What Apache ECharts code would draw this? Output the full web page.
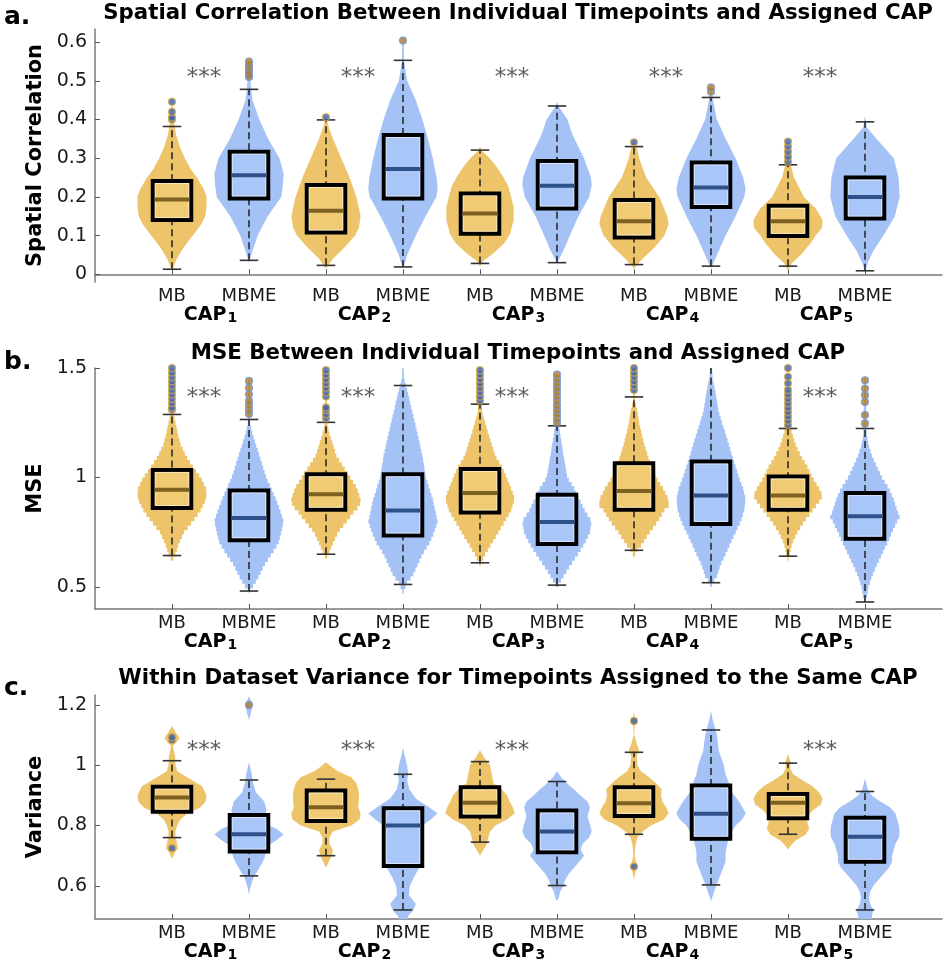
<!DOCTYPE html>
<html><head><meta charset="utf-8">
<script src="https://cdn.jsdelivr.net/npm/echarts@6/dist/echarts.min.js"></script>
<style>html,body{margin:0;padding:0;background:#fff}#c{width:945px;height:971px}</style>
</head><body><div id="c"></div><script>
// ---------------- DATA ----------------
const groups = ['MB', 'MBME'];
const capNumbers = ['1', '2', '3', '4', '5'];
const panelTitles = [
  'Spatial Correlation Between Individual Timepoints and Assigned CAP',
  'MSE Between Individual Timepoints and Assigned CAP',
  'Within Dataset Variance for Timepoints Assigned to the Same CAP'
];
const panelLetters = ['a.', 'b.', 'c.'];
const yNames = ['Spatial Correlation', 'MSE', 'Variance'];
const starText = '***';

// Panel a: spatial correlation
const corrTicks = [0, 0.1, 0.2, 0.3, 0.4, 0.5, 0.6];
const corrTickLabels = ['0', '0.1', '0.2', '0.3', '0.4', '0.5', '0.6'];
// [whiskerLow, q1, median, q3, whiskerHigh] in order MB1, MBME1, MB2, ...
const corrBoxes = [
  [0.013, 0.14, 0.193, 0.241, 0.382], [0.036, 0.196, 0.256, 0.317, 0.478],
  [0.023, 0.108, 0.164, 0.231, 0.399], [0.019, 0.196, 0.272, 0.36, 0.553],
  [0.028, 0.105, 0.157, 0.209, 0.321], [0.03, 0.17, 0.229, 0.293, 0.435],
  [0.025, 0.095, 0.137, 0.192, 0.33], [0.021, 0.174, 0.224, 0.289, 0.457],
  [0.021, 0.099, 0.137, 0.177, 0.283], [0.009, 0.144, 0.2, 0.25, 0.394]
];
const corrOutliers = [
  [0.40, 0.405, 0.42, 0.446], [0.51, 0.515, 0.524, 0.533, 0.541, 0.55],
  [0.406], [0.604],
  [], [],
  [0.341], [0.472, 0.483],
  [0.291, 0.304, 0.317, 0.33, 0.343], []
];
// violin density profiles: [value, relative half-width]
const corrViolins = [
  [[0.01,0],[0.02,0.05],[0.04,0.14],[0.07,0.34],[0.10,0.6],[0.13,0.85],[0.15,0.96],[0.18,1.0],[0.20,1.0],[0.22,0.92],[0.25,0.72],[0.27,0.55],[0.30,0.37],[0.33,0.22],[0.36,0.12],[0.39,0.06],[0.42,0.03],[0.46,0]],
  [[0.03,0],[0.06,0.1],[0.10,0.25],[0.15,0.54],[0.20,0.93],[0.23,0.98],[0.26,1.0],[0.30,0.88],[0.35,0.55],[0.40,0.3],[0.45,0.1],[0.50,0.04],[0.56,0]],
  [[0.015,0],[0.02,0.05],[0.04,0.2],[0.07,0.54],[0.10,0.84],[0.12,0.95],[0.15,1.0],[0.20,0.88],[0.25,0.68],[0.30,0.44],[0.35,0.2],[0.38,0.08],[0.41,0]],
  [[0.015,0],[0.02,0.03],[0.05,0.12],[0.10,0.37],[0.15,0.65],[0.20,0.96],[0.22,1.0],[0.25,0.97],[0.30,0.86],[0.35,0.72],[0.40,0.56],[0.45,0.37],[0.50,0.12],[0.55,0.03],[0.61,0.02],[0.615,0]],
  [[0.02,0],[0.035,0.1],[0.054,0.39],[0.08,0.7],[0.105,0.87],[0.14,0.97],[0.174,0.97],[0.2,0.9],[0.226,0.82],[0.25,0.68],[0.278,0.48],[0.30,0.28],[0.32,0.05],[0.33,0]],
  [[0.03,0],[0.06,0.18],[0.10,0.37],[0.15,0.62],[0.20,0.93],[0.23,1.0],[0.25,0.98],[0.30,0.78],[0.36,0.45],[0.40,0.3],[0.43,0.08],[0.445,0]],
  [[0.015,0],[0.02,0.05],[0.04,0.25],[0.07,0.6],[0.10,0.88],[0.13,1.0],[0.15,0.96],[0.20,0.73],[0.25,0.35],[0.30,0.15],[0.32,0.1],[0.35,0]],
  [[0.015,0],[0.02,0.03],[0.05,0.17],[0.10,0.42],[0.15,0.71],[0.20,0.96],[0.22,1.0],[0.25,0.93],[0.30,0.71],[0.35,0.42],[0.40,0.17],[0.45,0.06],[0.49,0]],
  [[0.01,0],[0.03,0.12],[0.05,0.37],[0.08,0.65],[0.10,0.8],[0.12,0.98],[0.14,1.0],[0.17,0.8],[0.20,0.46],[0.25,0.17],[0.30,0.03],[0.345,0]],
  [[0.005,0],[0.03,0.08],[0.06,0.24],[0.10,0.53],[0.15,0.86],[0.20,1.0],[0.25,0.97],[0.30,0.83],[0.35,0.33],[0.38,0.05],[0.41,0]]
];
const corrStars = [true, true, true, true, true];
const corrStarLevel = 0.52;

// Panel b: MSE
const mseTicks = [0.5, 1, 1.5];
const mseTickLabels = ['0.5', '1', '1.5'];
const mseBoxes = [
  [0.644, 0.861, 0.944, 1.035, 1.288], [0.482, 0.714, 0.815, 0.941, 1.265],
  [0.65, 0.853, 0.924, 1.015, 1.252], [0.512, 0.735, 0.85, 1.015, 1.42],
  [0.611, 0.841, 0.929, 1.039, 1.335], [0.509, 0.697, 0.797, 0.921, 1.236],
  [0.668, 0.853, 0.939, 1.065, 1.368], [0.52, 0.788, 0.918, 1.073, 1.55],
  [0.641, 0.853, 0.918, 1.005, 1.224], [0.432, 0.721, 0.823, 0.929, 1.224]
];
const mseOutliers = [
  [1.31, 1.32, 1.34, 1.36, 1.38, 1.4, 1.42, 1.44, 1.46, 1.48, 1.5],
  [1.29, 1.31, 1.33, 1.35, 1.38, 1.41, 1.441],
  [1.27, 1.29, 1.31, 1.32, 1.37, 1.39, 1.41, 1.43, 1.45, 1.47, 1.49],
  [],
  [1.35, 1.37, 1.39, 1.41, 1.43, 1.45, 1.47, 1.49],
  [1.25, 1.27, 1.29, 1.31, 1.33, 1.35, 1.37, 1.39, 1.41, 1.43, 1.45, 1.47],
  [1.4, 1.42, 1.44, 1.46, 1.48, 1.5],
  [],
  [1.24, 1.26, 1.28, 1.3, 1.32, 1.34, 1.36, 1.38, 1.4, 1.43, 1.46, 1.5],
  [1.247, 1.285, 1.345, 1.376, 1.406, 1.444]
];
const mseViolins = [
  [[0.62,0],[0.65,0.1],[0.70,0.2],[0.75,0.35],[0.80,0.6],[0.85,0.83],[0.90,0.98],[0.92,1.0],[0.95,0.98],[1.0,0.83],[1.05,0.6],[1.1,0.4],[1.15,0.25],[1.2,0.17],[1.25,0.1],[1.3,0.03],[1.5,0.02],[1.505,0]],
  [[0.475,0],[0.5,0.1],[0.55,0.29],[0.6,0.44],[0.65,0.65],[0.7,0.85],[0.75,0.93],[0.8,1.0],[0.85,0.9],[0.9,0.78],[0.95,0.64],[1.0,0.5],[1.1,0.3],[1.2,0.1],[1.25,0.03],[1.44,0.02],[1.445,0]],
  [[0.63,0],[0.65,0.07],[0.7,0.2],[0.75,0.35],[0.8,0.6],[0.85,0.84],[0.87,0.97],[0.9,1.0],[0.95,0.9],[1.0,0.7],[1.05,0.5],[1.1,0.3],[1.15,0.2],[1.2,0.1],[1.25,0.03],[1.49,0.02],[1.495,0]],
  [[0.47,0],[0.48,0.02],[0.52,0.12],[0.55,0.27],[0.6,0.42],[0.65,0.56],[0.7,0.76],[0.75,0.9],[0.8,1.0],[0.9,0.86],[1.0,0.66],[1.1,0.56],[1.2,0.42],[1.3,0.27],[1.4,0.12],[1.45,0.03],[1.5,0.02]],
  [[0.6,0],[0.65,0.15],[0.7,0.34],[0.75,0.53],[0.8,0.72],[0.85,0.9],[0.9,1.0],[0.92,0.97],[1.0,0.77],[1.05,0.63],[1.1,0.44],[1.2,0.24],[1.25,0.15],[1.3,0.06],[1.5,0.02],[1.505,0]],
  [[0.5,0],[0.52,0.08],[0.55,0.19],[0.6,0.39],[0.65,0.6],[0.7,0.8],[0.75,0.95],[0.8,1.0],[0.85,0.8],[0.9,0.65],[0.95,0.5],[1.0,0.3],[1.1,0.19],[1.2,0.09],[1.25,0.05],[1.47,0.02],[1.475,0]],
  [[0.64,0],[0.67,0.1],[0.7,0.25],[0.75,0.45],[0.8,0.69],[0.85,0.88],[0.87,1.0],[0.9,1.0],[0.95,0.84],[1.0,0.64],[1.05,0.5],[1.1,0.4],[1.15,0.3],[1.2,0.22],[1.25,0.15],[1.3,0.1],[1.35,0.03],[1.5,0.02],[1.505,0]],
  [[0.5,0],[0.52,0.05],[0.55,0.17],[0.6,0.27],[0.65,0.42],[0.7,0.56],[0.75,0.71],[0.8,0.86],[0.85,0.96],[0.9,1.0],[0.95,0.93],[1.0,0.81],[1.1,0.61],[1.2,0.42],[1.3,0.22],[1.4,0.12],[1.45,0.05],[1.5,0.03]],
  [[0.62,0],[0.65,0.05],[0.7,0.12],[0.75,0.27],[0.8,0.47],[0.85,0.71],[0.9,0.95],[0.92,1.0],[0.95,0.9],[1.0,0.71],[1.05,0.56],[1.1,0.37],[1.15,0.22],[1.2,0.12],[1.25,0.05],[1.5,0.02],[1.505,0]],
  [[0.43,0],[0.45,0.05],[0.5,0.1],[0.55,0.2],[0.6,0.34],[0.65,0.49],[0.7,0.64],[0.75,0.78],[0.8,0.93],[0.82,1.0],[0.85,0.93],[0.9,0.83],[0.95,0.69],[1.0,0.49],[1.05,0.34],[1.1,0.2],[1.15,0.1],[1.2,0.05],[1.45,0.02],[1.455,0]]
];
const mseStars = [true, true, true, false, true];
const mseStarLevel = 1.385;

// Panel c: variance
const varTicks = [0.6, 0.8, 1, 1.2];
const varTickLabels = ['0.6', '0.8', '1', '1.2'];
const varBoxes = [
  [0.76, 0.846, 0.893, 0.929, 1.015], [0.633, 0.714, 0.771, 0.835, 0.951],
  [0.70, 0.815, 0.861, 0.916, 0.954], [0.52, 0.666, 0.8, 0.857, 0.97],
  [0.745, 0.83, 0.876, 0.927, 1.012], [0.601, 0.711, 0.78, 0.85, 0.946],
  [0.771, 0.832, 0.874, 0.927, 1.043], [0.603, 0.756, 0.839, 0.933, 1.117],
  [0.771, 0.824, 0.876, 0.905, 1.007], [0.52, 0.68, 0.763, 0.826, 0.913]
];
const varOutliers = [
  [0.725, 1.084, 1.093], [1.2],
  [], [],
  [], [],
  [0.664, 1.147], [],
  [], []
];
const varViolins = [
  [[0.69,0],[0.71,0.08],[0.725,0.17],[0.74,0.15],[0.76,0.1],[0.78,0.1],[0.8,0.15],[0.82,0.24],[0.84,0.44],[0.86,0.82],[0.88,0.97],[0.9,1.0],[0.93,0.87],[0.95,0.58],[0.98,0.15],[1.0,0.1],[1.03,0.09],[1.05,0.05],[1.065,0.03],[1.075,0.12],[1.09,0.22],[1.11,0.1],[1.13,0]],
  [[0.57,0],[0.59,0.03],[0.61,0.08],[0.63,0.14],[0.65,0.25],[0.67,0.35],[0.69,0.44],[0.71,0.49],[0.73,0.5],[0.75,0.78],[0.77,1.0],[0.79,0.78],[0.81,0.35],[0.83,0.42],[0.85,0.51],[0.88,0.44],[0.91,0.2],[0.94,0.12],[0.97,0.08],[1.0,0.02],[1.01,0],[1.15,0],[1.17,0.05],[1.2,0.1],[1.23,0]],
  [[0.66,0],[0.68,0.08],[0.70,0.17],[0.72,0.2],[0.74,0.1],[0.76,0.1],[0.78,0.2],[0.80,0.73],[0.82,0.97],[0.84,1.0],[0.86,0.93],[0.88,0.95],[0.91,0.95],[0.94,0.88],[0.96,0.73],[0.98,0.34],[1.0,0.1],[1.01,0]],
  [[0.48,0.1],[0.5,0.15],[0.52,0.3],[0.54,0.37],[0.57,0.17],[0.6,0.2],[0.63,0.32],[0.66,0.47],[0.69,0.33],[0.72,0.35],[0.75,0.37],[0.78,0.42],[0.8,0.56],[0.82,0.8],[0.84,1.0],[0.86,0.76],[0.89,0.37],[0.92,0.18],[0.95,0.12],[0.97,0.15],[1.0,0.12],[1.03,0.05],[1.06,0]],
  [[0.7,0],[0.72,0.1],[0.74,0.2],[0.76,0.24],[0.78,0.29],[0.8,0.44],[0.82,0.78],[0.84,1.0],[0.86,0.95],[0.88,0.86],[0.9,0.78],[0.92,0.63],[0.94,0.39],[0.97,0.34],[1.0,0.29],[1.03,0.1],[1.05,0]],
  [[0.55,0],[0.56,0.05],[0.58,0.09],[0.6,0.18],[0.62,0.24],[0.64,0.34],[0.66,0.49],[0.68,0.64],[0.7,0.78],[0.72,0.68],[0.74,0.74],[0.76,0.93],[0.78,1.0],[0.8,0.96],[0.83,0.88],[0.86,0.95],[0.88,0.88],[0.9,0.68],[0.92,0.49],[0.94,0.28],[0.96,0.12],[0.98,0]],
  [[0.62,0],[0.65,0.05],[0.665,0.1],[0.68,0.06],[0.7,0.02],[0.72,0.03],[0.74,0.05],[0.76,0.1],[0.78,0.25],[0.8,0.49],[0.82,0.86],[0.84,1.0],[0.86,0.93],[0.88,0.82],[0.9,0.78],[0.92,0.8],[0.94,0.64],[0.96,0.44],[0.98,0.2],[1.0,0.1],[1.03,0.08],[1.05,0.15],[1.07,0.08],[1.1,0.01],[1.13,0.02],[1.147,0.1],[1.16,0.02],[1.18,0]],
  [[0.55,0],[0.57,0.06],[0.6,0.15],[0.62,0.22],[0.65,0.32],[0.68,0.42],[0.71,0.42],[0.74,0.47],[0.77,0.56],[0.8,0.71],[0.82,0.9],[0.84,1.0],[0.85,0.96],[0.88,0.81],[0.91,0.61],[0.94,0.52],[0.97,0.42],[1.0,0.37],[1.05,0.22],[1.1,0.17],[1.15,0.05],[1.18,0]],
  [[0.72,0],[0.73,0.05],[0.75,0.22],[0.77,0.51],[0.79,0.61],[0.81,0.56],[0.83,0.56],[0.85,0.71],[0.87,0.95],[0.89,1.0],[0.91,0.9],[0.93,0.71],[0.95,0.42],[0.97,0.15],[0.99,0.06],[1.01,0.08],[1.03,0.02],[1.04,0]],
  [[0.48,0.2],[0.5,0.2],[0.52,0.24],[0.54,0.15],[0.56,0.12],[0.58,0.15],[0.6,0.24],[0.62,0.39],[0.64,0.54],[0.66,0.69],[0.68,0.78],[0.7,0.78],[0.72,0.83],[0.74,0.88],[0.76,0.98],[0.78,1.0],[0.8,0.98],[0.82,0.93],[0.84,0.88],[0.86,0.73],[0.88,0.44],[0.9,0.2],[0.92,0.08],[0.95,0.01],[0.96,0]]
];
const varStars = [true, true, true, false, true];
const varStarLevel = 1.063;

// ---------------- STYLE / LAYOUT ----------------
const FONT = '"DejaVu Sans", "Noto Sans", sans-serif';
const VIOLIN_HALF = 0.45, BOX_HALF = 0.25, CAP_HALF = 0.12, STAR_DX = -0.085;
const violinColor = ['#EEC46B', '#A4C2F5'];
const boxFill = ['#F1CA74', '#A9C6F8'];
const medianColor = ['#7D6120', '#2E5189'];
const outlierFill = ['#3A64B2', '#B47C1E'];
const outlierBorder = ['#D9A640', '#6E95DA'];
const axisGray = '#7a7a7a';

const panels = [
  { ticks: corrTicks, tickLabels: corrTickLabels, boxes: corrBoxes, outliers: corrOutliers, violins: corrViolins,
    stars: corrStars, starLevel: corrStarLevel, yMin: -0.02, yMax: 0.634, grid: { top: 29, height: 253 }, step: 0 },
  { ticks: mseTicks, tickLabels: mseTickLabels, boxes: mseBoxes, outliers: mseOutliers, violins: mseViolins,
    stars: mseStars, starLevel: mseStarLevel, yMin: 0.4, yMax: 1.5, grid: { top: 368, height: 241 }, step: 0.02 },
  { ticks: varTicks, tickLabels: varTickLabels, boxes: varBoxes, outliers: varOutliers, violins: varViolins,
    stars: varStars, starLevel: varStarLevel, yMin: 0.49, yMax: 1.233, grid: { top: 695, height: 224 }, step: 0 }
];
const titleY = [13, 353, 678];
const letterY = [17, 362, 688];

const positions = [];
capNumbers.forEach((c, k) => groups.forEach((g, j) => positions.push(2 * k + 1 + j)));
const capPositions = capNumbers.map((c, k) => 2 * k + 1.5);

// width of a profile at value v (used only to draw a stair-stepped outline)
function widthAt(prof, v) {
  if (v <= prof[0][0]) return prof[0][1];
  for (let k = 1; k < prof.length; k++) {
    if (v <= prof[k][0]) {
      const a = prof[k - 1], b = prof[k];
      return a[1] + (b[1] - a[1]) * (v - a[0]) / (b[0] - a[0]);
    }
  }
  return prof[prof.length - 1][1];
}
function outline(prof, step) {
  if (!step) return prof;
  const out = [];
  const v0 = prof[0][0], v1 = prof[prof.length - 1][0];
  for (let v = v0; v < v1 - 1e-9; v += step) {
    const top = Math.min(v + step, v1);
    const w = widthAt(prof, (v + top) / 2);
    out.push([v, w], [top, w]);
  }
  return out;
}

function makeRender(p) {
  return function (params, api) {
    const i = params.dataIndex;
    const x = api.value(0);
    const g = i % 2;
    const prof = outline(p.violins[i], p.step);
    const pts = prof.map(d => api.coord([x + d[1] * VIOLIN_HALF, d[0]]))
      .concat(prof.slice().reverse().map(d => api.coord([x - d[1] * VIOLIN_HALF, d[0]])));
    const b = p.boxes[i];
    const lo = api.coord([x, b[0]]), hi = api.coord([x, b[4]]);
    const q1L = api.coord([x - BOX_HALF, b[1]]), q3R = api.coord([x + BOX_HALF, b[3]]);
    const medL = api.coord([x - BOX_HALF, b[2]]), medR = api.coord([x + BOX_HALF, b[2]]);
    const capL = api.coord([x - CAP_HALF, b[0]]), capR = api.coord([x + CAP_HALF, b[0]]);
    const capL2 = api.coord([x - CAP_HALF, b[4]]), capR2 = api.coord([x + CAP_HALF, b[4]]);
    const bx = q1L[0], by = q3R[1], bw = q3R[0] - q1L[0], bh = q1L[1] - q3R[1];
    return {
      type: 'group',
      children: [
        { type: 'polygon', shape: { points: pts }, style: { fill: violinColor[g], stroke: null } },
        { type: 'line', shape: { x1: lo[0], y1: lo[1], x2: hi[0], y2: hi[1] },
          style: { stroke: '#222', lineWidth: 1.5, lineDash: [7, 4] } },
        { type: 'line', shape: { x1: capL[0], y1: capL[1], x2: capR[0], y2: capR[1] },
          style: { stroke: '#333', lineWidth: 1.6 } },
        { type: 'line', shape: { x1: capL2[0], y1: capL2[1], x2: capR2[0], y2: capR2[1] },
          style: { stroke: '#333', lineWidth: 1.6 } },
        { type: 'rect', shape: { x: bx, y: by, width: bw, height: bh },
          style: { fill: boxFill[g], stroke: '#000', lineWidth: 4 } },
        { type: 'rect', shape: { x: bx + 2.5, y: by + 2.5, width: bw - 5, height: bh - 5 },
          style: { fill: null, stroke: 'rgba(255,255,255,0.55)', lineWidth: 1 } },
        { type: 'line', shape: { x1: medL[0] + 2, y1: medL[1], x2: medR[0] - 2, y2: medR[1] },
          style: { stroke: medianColor[g], lineWidth: 4 } }
      ]
    };
  };
}

const grids = [], xAxes = [], yAxes = [], series = [], graphics = [];
panels.forEach((p, pi) => {
  grids.push({ left: 95, width: 847, top: p.grid.top, height: p.grid.height });
  xAxes.push({
    gridIndex: pi, type: 'value', min: 0, max: 11, splitLine: { show: false },
    axisLine: { show: true, lineStyle: { color: axisGray, width: 1.5 } },
    axisTick: { show: true, inside: true, length: 5, customValues: positions, lineStyle: { color: '#555', width: 1 } },
    axisLabel: { customValues: positions, formatter: v => groups[(Math.round(v) - 1) % 2],
      fontSize: 18, color: '#1a1a1a', fontFamily: FONT, margin: 5 }
  });
  xAxes.push({
    gridIndex: pi, type: 'value', min: 0, max: 11, position: 'bottom', splitLine: { show: false },
    axisLine: { show: false }, axisTick: { show: false },
    axisLabel: { customValues: capPositions, margin: 24,
      formatter: v => '{c|CAP}{s|' + capNumbers[Math.round((v - 1.5) / 2)] + '}',
      rich: { c: { fontSize: 19, fontWeight: 'bold', fontFamily: FONT, color: '#000', padding: [0, 1, 6, 0] },
              s: { fontSize: 14, fontWeight: 'bold', fontFamily: FONT, color: '#000' } } }
  });
  yAxes.push({
    gridIndex: pi, type: 'value', min: p.yMin, max: p.yMax, splitLine: { show: false },
    axisLine: { show: true, lineStyle: { color: axisGray, width: 1.5 } },
    axisTick: { show: true, inside: true, length: 5, customValues: p.ticks, lineStyle: { color: '#555', width: 1 } },
    axisLabel: { customValues: p.ticks, formatter: v => { const k = p.ticks.indexOf(v); return k >= 0 ? p.tickLabels[k] : String(v); },
      fontSize: 19, color: '#1a1a1a', fontFamily: FONT, margin: 8 },
    name: yNames[pi], nameLocation: 'middle', nameGap: 46,
    nameTextStyle: { fontSize: 21, fontWeight: 'bold', fontFamily: FONT, color: '#000' }
  });
  series.push({
    type: 'custom', xAxisIndex: 2 * pi, yAxisIndex: pi, clip: true, silent: true,
    renderItem: makeRender(p),
    data: positions.map((x, i) => [x, p.boxes[i][2]])
  });
  [0, 1].forEach(g => {
    const pts = [];
    p.outliers.forEach((arr, i) => { if (i % 2 === g) arr.forEach(v => pts.push([positions[i], v])); });
    series.push({
      type: 'scatter', xAxisIndex: 2 * pi, yAxisIndex: pi, clip: true, silent: true, z: 5,
      symbol: 'circle', symbolSize: 7, data: pts,
      itemStyle: { color: outlierFill[g], borderColor: outlierBorder[g], borderWidth: 1.2 }
    });
  });
  const starPts = [];
  p.stars.forEach((s, k) => { if (s) starPts.push([capPositions[k] + STAR_DX, p.starLevel]); });
  series.push({
    type: 'scatter', xAxisIndex: 2 * pi, yAxisIndex: pi, silent: true, z: 6,
    symbolSize: 0, data: starPts,
    label: { show: true, position: 'inside', formatter: starText, fontSize: 23, color: '#333', fontFamily: FONT, offset: [0, 5] }
  });
  graphics.push({ type: 'text', x: 518, y: titleY[pi],
    style: { text: panelTitles[pi], font: 'bold 21.3px ' + FONT, fill: '#000', align: 'center', verticalAlign: 'middle' } });
  graphics.push({ type: 'text', x: 4, y: letterY[pi],
    style: { text: panelLetters[pi], font: 'bold 25px ' + FONT, fill: '#000', align: 'left', verticalAlign: 'middle' } });
});

const chart = echarts.init(document.getElementById('c'), null, { renderer: 'canvas' });
chart.setOption({
  animation: false,
  backgroundColor: '#fff',
  grid: grids, xAxis: xAxes, yAxis: yAxes, series: series, graphic: graphics
});
</script></body></html>
